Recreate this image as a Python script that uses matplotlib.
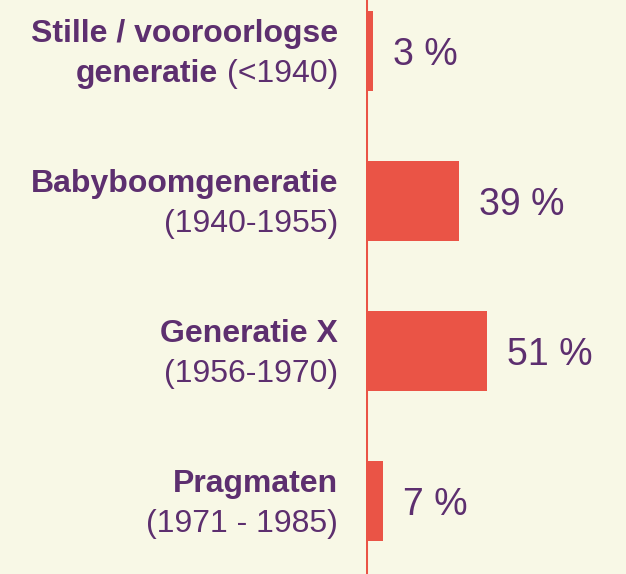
import matplotlib.pyplot as plt

# data
names = ["Stille / vooroorlogse", "Babyboomgeneratie", "Generatie X", "Pragmaten"]
name_line2 = ["generatie", "", "", ""]
years = ["(<1940)", "(1940-1955)", "(1956-1970)", "(1971 - 1985)"]
shares = [3, 39, 51, 7]

BG = "#f8f8e6"
RED = "#ea5446"
PURPLE = "#5d2f6f"

plt.rcParams["font.family"] = ["Liberation Sans", "DejaVu Sans"]

fig = plt.figure(figsize=(6.26, 5.74), dpi=100, facecolor=BG)
ax = fig.add_axes([366 / 626, 0, 260 / 626, 1])
ax.set_facecolor(BG)

pos = list(range(len(shares)))
ax.barh(pos, shares, height=80 / 150, color=RED, linewidth=0)
ax.axvline(0, color=RED, lw=2.2)

ax.set_xlim(0, 51 * 260 / 121)
ax.set_ylim((574 - 51) / 150, -51 / 150)
ax.axis("off")

for i, v in enumerate(shares):
    # value label
    ax.annotate(f"{v} %", xy=(v, i), xytext=(20, -14), textcoords="offset pixels",
                ha="left", va="baseline", fontsize=27, color=PURPLE, annotation_clip=False)
    # first line (bold)
    ax.annotate(names[i], xy=(0, i), xytext=(-28, 9), textcoords="offset pixels",
                ha="right", va="baseline", fontsize=23, fontweight="bold",
                color=PURPLE, annotation_clip=False)
    # second line: years regular, maybe bold prefix
    yr = ax.annotate(years[i], xy=(0, i), xytext=(-28, -31), textcoords="offset pixels",
                     ha="right", va="baseline", fontsize=23, color=PURPLE,
                     annotation_clip=False)
    if name_line2[i]:
        ax.annotate(name_line2[i], xy=(0, i), xycoords=(yr, "data"),
                    xytext=(-9, -31), textcoords="offset pixels",
                    ha="right", va="baseline", fontsize=23, fontweight="bold",
                    color=PURPLE, annotation_clip=False)

fig.savefig("out.png", dpi=100, facecolor=BG)
